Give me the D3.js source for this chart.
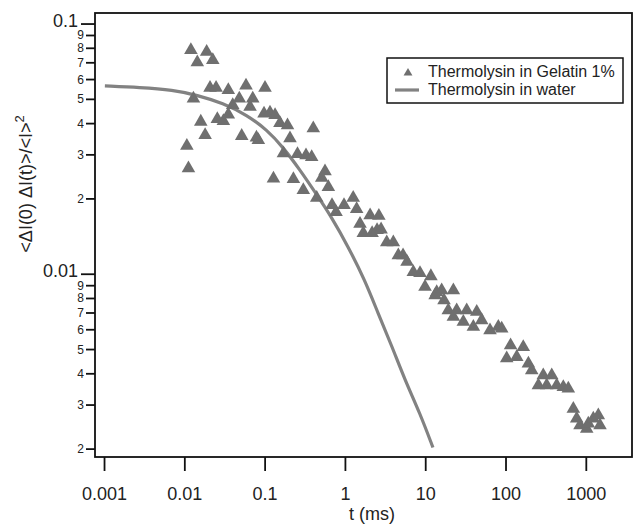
<!DOCTYPE html>
<html>
<head>
<meta charset="utf-8">
<script src="https://cdn.jsdelivr.net/npm/d3@7"></script>
<style>
  body { margin: 0; background: #fff; }
  text { font-family: 'Liberation Sans', Arial, Helvetica, sans-serif; fill: #222; }
</style>
</head>
<body>
<div id="chart"></div>
<script>
// Thermolysin in Gelatin 1% (triangles)
const gelatinT = [0.0106, 0.0111, 0.0119, 0.0128, 0.0143, 0.0158, 0.0179, 0.0187, 0.0206, 0.0223,
  0.0245, 0.0254, 0.0302, 0.0348, 0.0348, 0.0395, 0.0477, 0.0511, 0.0578, 0.0649,
  0.0701, 0.078, 0.0823, 0.0969, 0.0997, 0.115, 0.127, 0.133, 0.153, 0.169,
  0.190, 0.204, 0.225, 0.253, 0.299, 0.323, 0.380, 0.398, 0.439, 0.507,
  0.557, 0.613, 0.681, 0.764, 0.961, 1.25, 1.38, 1.52, 1.67, 2.03,
  2.15, 2.48, 2.61, 2.78, 3.27, 3.95, 4.56, 5.22, 5.85, 7.01,
  8.49, 9.80, 11.6, 13.1, 13.7, 15.8, 16.9, 19.1, 22.1, 22.1,
  24.3, 29.4, 32.4, 39.2, 43.2, 49.8, 63.2, 80.2, 88.4, 102,
  114, 136, 164, 190, 209, 253, 291, 321, 371, 428,
  517, 597, 689, 759, 835, 1012, 1059, 1222, 1411, 1481]
const gelatinG = [0.0326, 0.0265, 0.0787, 0.0504, 0.0703, 0.0407, 0.0360, 0.0775, 0.0556, 0.0718,
  0.0556, 0.0417, 0.0409, 0.0545, 0.0435, 0.0474, 0.0504, 0.0357, 0.0567, 0.0467,
  0.0504, 0.0352, 0.0344, 0.0439, 0.0556, 0.0443, 0.0241, 0.0433, 0.0402, 0.0304,
  0.0394, 0.0349, 0.0240, 0.0302, 0.0217, 0.0299, 0.0294, 0.0383, 0.0202, 0.0243,
  0.0258, 0.0223, 0.0189, 0.0177, 0.0189, 0.0202, 0.0182, 0.0159, 0.0146, 0.0172,
  0.0146, 0.0150, 0.0171, 0.0151, 0.0134, 0.0134, 0.0119, 0.0119, 0.0112, 0.0102,
  0.0101, 0.00890, 0.00982, 0.00824, 0.00849, 0.00863, 0.00787, 0.00718, 0.00863, 0.00675,
  0.00718, 0.00645, 0.00718, 0.00616, 0.00707, 0.00655, 0.00597, 0.00616, 0.00607, 0.00461,
  0.00520, 0.00467, 0.00512, 0.00439, 0.00413, 0.00360, 0.00394, 0.00360, 0.00394, 0.00360,
  0.00354, 0.00349, 0.00290, 0.00265, 0.00249, 0.00241, 0.00253, 0.00265, 0.00273, 0.00249]

// Thermolysin in water (line)
const waterT = [0.00101, 0.00277, 0.00713, 0.0142, 0.0299, 0.0596, 0.106, 0.167, 0.272,
  0.418, 0.681, 1.08, 1.75, 2.55, 3.80, 5.52, 8.49, 12.3]
const waterG = [0.0566, 0.0558, 0.0545, 0.0520, 0.0483, 0.0433, 0.0377, 0.0322, 0.0261,
  0.0213, 0.0168, 0.0129, 0.00946, 0.00698, 0.00515, 0.00377, 0.00278, 0.00203]

const seriesNames = ['Thermolysin in Gelatin 1%', 'Thermolysin in water']

const xTicks = [0.001, 0.01, 0.1, 1, 10, 100, 1000]
const xTickLabels = ['0.001', '0.01', '0.1', '1', '10', '100', '1000']
const yMajor = [0.01, 0.1]
const yMajorLabels = ['0.01', '0.1']
const yMinor = [0.002, 0.003, 0.004, 0.005, 0.006, 0.007, 0.008, 0.009,
  0.02, 0.03, 0.04, 0.05, 0.06, 0.07, 0.08, 0.09]
const yMinorLabels = ['2', '3', '4', '5', '6', '7', '8', '9',
  '2', '3', '4', '5', '6', '7', '8', '9']

const width = 639, height = 525
const plotL = 95, plotR = 632, plotT = 13, plotB = 457
const markColor = '#6f6f6f', lineColor = '#828282'

const svg = d3.select('#chart').append('svg')
  .attr('width', width)
  .attr('height', height)

const x = d3.scaleLog().domain([0.000761, 3707]).range([plotL, plotR])
const y = d3.scaleLog().domain([0.00186, 0.1107]).range([plotB, plotT])

// frame
svg.append('rect')
  .attr('x', plotL).attr('y', plotT)
  .attr('width', plotR - plotL).attr('height', plotB - plotT)
  .attr('fill', 'none').attr('stroke', '#111').attr('stroke-width', 1.8)

// x axis
const xAxis = svg.append('g')
xAxis.selectAll('line').data(xTicks).enter().append('line')
  .attr('x1', d => x(d)).attr('x2', d => x(d))
  .attr('y1', plotB).attr('y2', plotB + 14)
  .attr('stroke', '#111').attr('stroke-width', 1.8)
xAxis.selectAll('text').data(xTicks).enter().append('text')
  .attr('x', d => x(d)).attr('y', plotB + 43)
  .attr('text-anchor', 'middle')
  .style('font-size', '18px')
  .text((d, i) => xTickLabels[i])
svg.append('text')
  .attr('x', 372).attr('y', 520)
  .attr('text-anchor', 'middle')
  .style('font-size', '18px')
  .text('t (ms)')

// y axis
const yAxis = svg.append('g')
yAxis.selectAll('line.major').data(yMajor).enter().append('line')
  .attr('class', 'major')
  .attr('x1', plotL - 14).attr('x2', plotL)
  .attr('y1', d => y(d)).attr('y2', d => y(d))
  .attr('stroke', '#111').attr('stroke-width', 1.8)
yAxis.selectAll('line.minor').data(yMinor).enter().append('line')
  .attr('class', 'minor')
  .attr('x1', plotL - 9).attr('x2', plotL)
  .attr('y1', d => y(d)).attr('y2', d => y(d))
  .attr('stroke', '#111').attr('stroke-width', 1.8)
yAxis.selectAll('text.major').data(yMajor).enter().append('text')
  .attr('class', 'major')
  .attr('x', plotL - 17).attr('y', d => y(d) + 3)
  .attr('text-anchor', 'end')
  .style('font-size', '18px')
  .text((d, i) => yMajorLabels[i])
yAxis.selectAll('text.minor').data(yMinor).enter().append('text')
  .attr('class', 'minor')
  .attr('x', plotL - 11).attr('y', d => y(d) + 4)
  .attr('text-anchor', 'end')
  .style('font-size', '12px')
  .text((d, i) => yMinorLabels[i])

const ylab = svg.append('text')
  .attr('transform', 'translate(32,184) rotate(-90)')
  .attr('text-anchor', 'middle')
  .style('font-size', '18px')
ylab.append('tspan').text('<ΔI(0)  ΔI(t)>/<I>')
ylab.append('tspan').attr('dy', -8).style('font-size', '13px').text('2')

// water curve
const line = d3.line()
  .x(d => x(d[0]))
  .y(d => y(d[1]))
  .curve(d3.curveBasis)
svg.append('path')
  .datum(waterT.map((t, i) => [t, waterG[i]]))
  .attr('d', line)
  .attr('fill', 'none')
  .attr('stroke', lineColor)
  .attr('stroke-width', 3.2)

// gelatin triangles
const tri = d3.symbol().type(d3.symbolTriangle).size(80)
svg.append('g').selectAll('path')
  .data(gelatinT.map((t, i) => [t, gelatinG[i]]))
  .enter().append('path')
  .attr('d', tri)
  .attr('transform', d => `translate(${x(d[0])},${y(d[1])})`)
  .attr('fill', markColor)

// legend
const lg = svg.append('g')
lg.append('rect')
  .attr('x', 387).attr('y', 58)
  .attr('width', 236).attr('height', 45)
  .attr('fill', '#fff').attr('stroke', '#111').attr('stroke-width', 1.5)
lg.append('path')
  .attr('d', d3.symbol().type(d3.symbolTriangle).size(34))
  .attr('transform', 'translate(408,73)')
  .attr('fill', markColor)
lg.append('line')
  .attr('x1', 395).attr('x2', 419).attr('y1', 90).attr('y2', 90)
  .attr('stroke', lineColor).attr('stroke-width', 3.2)
lg.selectAll('text').data(seriesNames).enter().append('text')
  .attr('x', 428).attr('y', (d, i) => 77 + i * 18)
  .style('font-size', '16px')
  .text(d => d)
</script>
</body>
</html>
